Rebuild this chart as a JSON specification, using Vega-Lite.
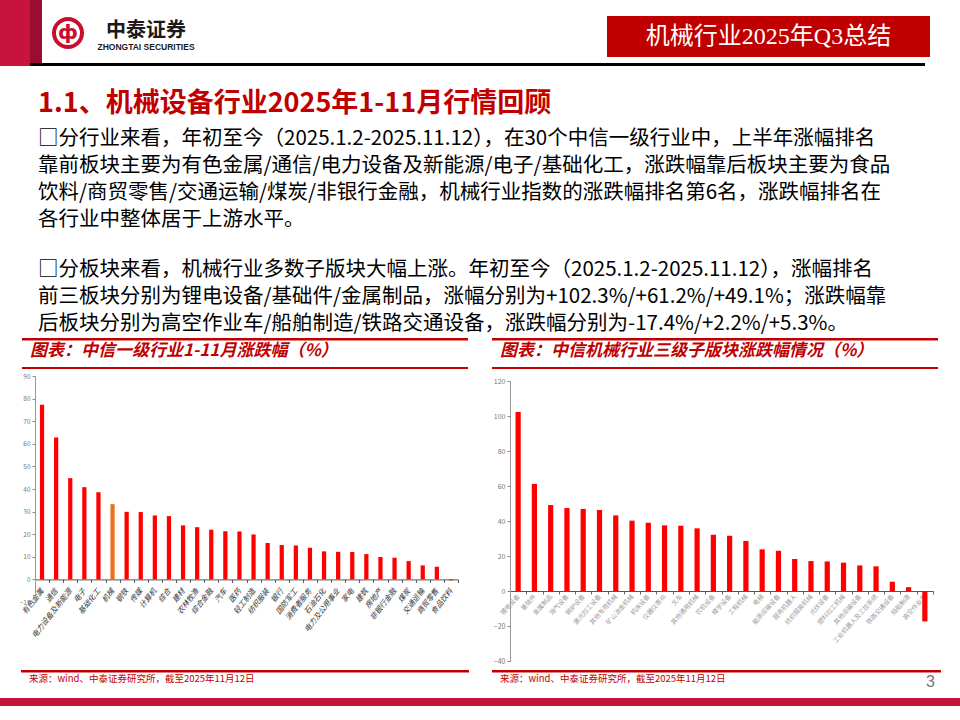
{
  "$schema": "https://vega.github.io/schema/vega-lite/v6.json",
  "background": "white",
  "padding": 0,
  "config": {"view": {"stroke": null}, "font": "Noto Sans CJK SC"},
  "spacing": 0,
  "bounds": "flush",
  "vconcat": [
    {
      "spacing": 0, "bounds": "flush",
      "hconcat": [
        {"width": 30, "height": 63, "data": {"values": []}, "mark": "point", "view": {"fill": "#C8143C"}},
        {"width": 12, "height": 63, "data": {"values": []}, "mark": "point", "view": {"fill": "#9B0D2E"}},
        {"width": 11, "height": 63, "data": {"values": []}, "mark": "point"},
        {"spacing": 0, "bounds": "flush", "vconcat": [
          {"width": 30, "height": 18, "data": {"values": []}, "mark": "point"},
          {"width": 30, "height": 30, "data": {"values": [{}]}, "layer": [
            {"mark": {"type": "point", "shape": "circle", "size": 784, "filled": false, "stroke": "#C8102E", "strokeWidth": 4, "opacity": 1}, "encoding": {}},
            {"mark": {"type": "text", "text": "ф", "fontSize": 20, "fontWeight": "bold", "color": "#C8102E", "align": "center", "baseline": "middle", "font": "DejaVu Sans"}, "encoding": {}}
          ]}
        ]},
        {"width": 44, "height": 63, "data": {"values": []}, "mark": "point"},
        {"spacing": 0, "bounds": "flush", "vconcat": [
          {"width": 98, "height": 21, "data": {"values": []}, "mark": "point"},
          {"width": 98, "height": 20, "data": {"values": [{}]}, "mark": {"type": "text", "text": "中泰证券", "fontSize": 20, "fontWeight": "bold", "color": "#1a1a1a", "align": "center", "baseline": "middle", "font": "Noto Sans CJK SC"}, "encoding": {}},
          {"width": 98, "height": 2, "data": {"values": []}, "mark": "point"},
          {"width": 98, "height": 7, "data": {"values": [{}]}, "mark": {"type": "text", "text": "ZHONGTAI SECURITIES", "fontSize": 8.5, "fontWeight": "bold", "color": "#1a1a1a", "align": "center", "baseline": "middle", "font": "'Liberation Sans Narrow', 'Liberation Sans'"}, "encoding": {}}
        ]},
        {"width": 510, "height": 63, "data": {"values": []}, "mark": "point"},
        {"spacing": 0, "bounds": "flush", "vconcat": [
          {"width": 323, "height": 16, "data": {"values": []}, "mark": "point"},
          {"width": 323, "height": 41, "data": {"values": [{}]}, "view": {"fill": "#C00000"}, "mark": {"type": "text", "text": "机械行业2025年Q3总结", "fontSize": 24, "color": "white", "align": "center", "baseline": "middle", "font": "'Liberation Serif', 'Noto Sans CJK SC'"}, "encoding": {}}
        ]}
      ]
    },
    {"width": 10, "height": 63, "data": {"values": []}, "mark": "point"},
    {
      "spacing": 0, "bounds": "flush",
      "hconcat": [
        {"width": 30, "height": 3, "data": {"values": []}, "mark": "point", "view": {"fill": "#C8143C"}},
        {"width": 895, "height": 3, "data": {"values": []}, "mark": "point", "view": {"fill": "#000000"}}
      ]
    },
    {"width": 10, "height": 3, "data": {"values": []}, "mark": "point"},
    {
      "spacing": 0, "bounds": "flush",
      "hconcat": [
        {"width": 38, "height": 1, "data": {"values": []}, "mark": "point"},
        {"width": 880, "height": 1, "data": {"values": []}, "mark": "point",
         "title": {
           "text": "1.1、机械设备行业2025年1-11月行情回顾",
           "subtitle": [
             "□分行业来看，年初至今（2025.1.2-2025.11.12），在30个中信一级行业中，上半年涨幅排名",
             "靠前板块主要为有色金属/通信/电力设备及新能源/电子/基础化工，涨跌幅靠后板块主要为食品",
             "饮料/商贸零售/交通运输/煤炭/非银行金融，机械行业指数的涨跌幅排名第6名，涨跌幅排名在",
             "各行业中整体居于上游水平。"
           ],
           "orient": "bottom", "anchor": "start", "frame": "group", "offset": 24,
           "font": "Noto Sans CJK SC", "fontSize": 27, "fontWeight": "bold", "color": "#C00000",
           "subtitleFont": "Noto Sans CJK SC", "subtitleFontSize": 20.5, "subtitleColor": "#000000",
           "subtitleLineHeight": 27, "subtitlePadding": 11, "subtitleFontWeight": "normal"
         }}
      ]
    },
    {
      "spacing": 0, "bounds": "flush",
      "hconcat": [
        {"width": 38, "height": 1, "data": {"values": []}, "mark": "point"},
        {"width": 880, "height": 1, "data": {"values": []}, "mark": "point",
         "title": {
           "text": [
             "□分板块来看，机械行业多数子版块大幅上涨。年初至今（2025.1.2-2025.11.12），涨幅排名",
             "前三板块分别为锂电设备/基础件/金属制品，涨幅分别为+102.3%/+61.2%/+49.1%；涨跌幅靠",
             "后板块分别为高空作业车/船舶制造/铁路交通设备，涨跌幅分别为-17.4%/+2.2%/+5.3%。"
           ],
           "orient": "bottom", "anchor": "start", "frame": "group", "offset": 193,
           "font": "Noto Sans CJK SC", "fontSize": 20.5, "fontWeight": "normal", "color": "#000000",
           "lineHeight": 27
         }}
      ]
    },
    {"width": 10, "height": 272, "data": {"values": []}, "mark": "point"},
    {
      "spacing": 0, "bounds": "flush",
      "hconcat": [
        {"width": 22, "height": 2.5, "data": {"values": []}, "mark": "point"},
        {"width": 446, "height": 2.5, "data": {"values": []}, "mark": "point", "view": {"fill": "#C00000"}},
        {"width": 24, "height": 2.5, "data": {"values": []}, "mark": "point"},
        {"width": 446, "height": 2.5, "data": {"values": []}, "mark": "point", "view": {"fill": "#C00000"}}
      ]
    },
    {"width": 10, "height": 29, "data": {"values": []}, "mark": "point"},
    {
      "spacing": 0, "bounds": "flush",
      "hconcat": [
        {"width": 22, "height": 2, "data": {"values": []}, "mark": "point"},
        {"width": 446, "height": 2, "data": {"values": []}, "mark": "point", "view": {"fill": "#C00000"}},
        {"width": 24, "height": 2, "data": {"values": []}, "mark": "point"},
        {"width": 446, "height": 2, "data": {"values": []}, "mark": "point", "view": {"fill": "#C00000"}}
      ]
    },
    {"width": 10, "height": 9, "data": {"values": []}, "mark": "point"},
    {
      "spacing": 0, "bounds": "flush",
      "hconcat": [
        {"width": 35, "height": 1, "data": {"values": []}, "mark": "point"},
        {
          "width": 423, "height": 226,
          "title": {"text": "图表：中信一级行业1-11月涨跌幅（%）", "anchor": "start", "frame": "group", "dx": -5, "offset": 13, "fontSize": 17, "fontWeight": "bold", "fontStyle": "italic", "color": "#C00000", "font": "Noto Sans CJK SC"},
          "data": {"values": [
            {"industry": "有色金属", "change": 77.3},
            {"industry": "通信", "change": 62.8},
            {"industry": "电力设备及新能源", "change": 44.8},
            {"industry": "电子", "change": 40.8},
            {"industry": "基础化工", "change": 38.6},
            {"industry": "机械", "change": 33.3},
            {"industry": "钢铁", "change": 29.9},
            {"industry": "传媒", "change": 29.8},
            {"industry": "计算机", "change": 28.3},
            {"industry": "综合", "change": 28.0},
            {"industry": "建材", "change": 23.9},
            {"industry": "农林牧渔", "change": 23.1},
            {"industry": "综合金融", "change": 22.0},
            {"industry": "汽车", "change": 21.3},
            {"industry": "医药", "change": 21.2},
            {"industry": "轻工制造", "change": 19.9},
            {"industry": "纺织服装", "change": 16.1},
            {"industry": "银行", "change": 15.2},
            {"industry": "国防军工", "change": 15.0},
            {"industry": "消费者服务", "change": 14.0},
            {"industry": "石油石化", "change": 12.4},
            {"industry": "电力及公用事业", "change": 12.2},
            {"industry": "家电", "change": 12.1},
            {"industry": "建筑", "change": 11.2},
            {"industry": "房地产", "change": 9.9},
            {"industry": "非银行金融", "change": 9.6},
            {"industry": "煤炭", "change": 8.1},
            {"industry": "交通运输", "change": 6.2},
            {"industry": "商贸零售", "change": 5.6},
            {"industry": "食品饮料", "change": -0.4}
          ]},
          "mark": {"type": "bar", "width": {"band": 0.3}},
          "encoding": {
            "x": {"field": "industry", "type": "nominal", "sort": null,
                  "scale": {"paddingInner": 0, "paddingOuter": 0},
                  "axis": {"title": null, "offset": -22.6, "labelAngle": -52, "labelFontSize": 7.5, "labelFont": "Noto Sans CJK SC", "labelFontStyle": "italic", "labelColor": "#333333", "labelPadding": 7, "tickBand": "extent", "tickSize": 3, "tickColor": "#555555", "domainColor": "#555555", "grid": false, "labelOverlap": false}},
            "y": {"field": "change", "type": "quantitative",
                  "scale": {"domain": [-10, 90], "nice": false, "zero": false},
                  "axis": {"title": null, "values": [-10, 0, 10, 20, 30, 40, 50, 60, 70, 80, 90], "labelFontSize": 6.5, "labelColor": "#777777", "tickColor": "#888888", "domainColor": "#999999", "tickSize": 3, "grid": false, "labelPadding": 2}},
            "color": {"condition": {"test": "datum.industry === '机械'", "value": "#E8731E"}, "value": "#FF0000"}
          }
        },
        {"width": 52, "height": 1, "data": {"values": []}, "mark": "point"},
        {
          "spacing": 0, "bounds": "flush",
          "vconcat": [
            {"width": 1, "height": 4.3, "data": {"values": []}, "mark": "point"},
            {
              "width": 423, "height": 280,
              "title": {"text": "图表：中信机械行业三级子版块涨跌幅情况（%）", "anchor": "start", "frame": "group", "dx": -10, "offset": 17, "fontSize": 17, "fontWeight": "bold", "fontStyle": "italic", "color": "#C00000", "font": "Noto Sans CJK SC"},
              "data": {"values": [
                {"sector": "锂电设备", "change": 102.3},
                {"sector": "基础件", "change": 61.2},
                {"sector": "金属制品", "change": 49.1},
                {"sector": "油气设备", "change": 47.4},
                {"sector": "锅炉设备", "change": 46.9},
                {"sector": "激光加工设备", "change": 46.3},
                {"sector": "其他专用机械", "change": 43.2},
                {"sector": "矿山冶金机械", "change": 40.2},
                {"sector": "机床设备", "change": 39.0},
                {"sector": "仪器仪表Ⅲ", "change": 37.5},
                {"sector": "叉车", "change": 37.3},
                {"sector": "其他通用机械", "change": 35.8},
                {"sector": "农机设备", "change": 32.2},
                {"sector": "楼宇设备", "change": 31.6},
                {"sector": "工程机械", "change": 28.6},
                {"sector": "电梯", "change": 23.8},
                {"sector": "能源运输设备", "change": 23.0},
                {"sector": "服务机器人", "change": 18.3},
                {"sector": "纺织服装机械", "change": 17.1},
                {"sector": "光伏设备", "change": 16.9},
                {"sector": "塑料加工机械", "change": 16.2},
                {"sector": "其他运输设备", "change": 14.6},
                {"sector": "工业机器人及工控系统", "change": 14.1},
                {"sector": "铁路交通设备", "change": 5.3},
                {"sector": "船舶制造", "change": 2.2},
                {"sector": "高空作业车", "change": -17.4}
              ]},
              "mark": {"type": "bar", "width": {"band": 0.32}, "color": "#FF0000"},
              "encoding": {
                "x": {"field": "sector", "type": "nominal", "sort": null,
                      "scale": {"paddingInner": 0, "paddingOuter": 0},
                      "axis": {"title": null, "offset": -70, "labelAngle": -48, "labelFontSize": 6.3, "labelFont": "Noto Sans CJK SC", "labelColor": "#999999", "labelPadding": 1, "tickBand": "extent", "tickSize": 3, "tickColor": "#666666", "domainColor": "#555555", "grid": false, "labelOverlap": false}},
                "y": {"field": "change", "type": "quantitative",
                      "scale": {"domain": [-40, 120], "nice": false, "zero": false},
                      "axis": {"title": null, "values": [-40, -20, 0, 20, 40, 60, 80, 100, 120], "labelFontSize": 7, "labelColor": "#777777", "tickColor": "#888888", "domainColor": "#999999", "tickSize": 3, "grid": false, "labelPadding": 2}}
              }
            }
          ]
        }
      ]
    },
    {"width": 10, "height": 294, "data": {"values": []}, "mark": "point"},
    {
      "spacing": 0, "bounds": "flush",
      "hconcat": [
        {"width": 21, "height": 2.5, "data": {"values": []}, "mark": "point"},
        {"width": 448, "height": 2.5, "data": {"values": []}, "mark": "point", "view": {"fill": "#C00000"},
         "title": {"text": "来源：wind、中泰证券研究所，截至2025年11月12日", "orient": "bottom", "anchor": "start", "frame": "group", "dx": 8, "offset": 1, "fontSize": 9.5, "fontWeight": "normal", "color": "#C00000", "font": "Noto Sans CJK SC"}},
        {"width": 23, "height": 2.5, "data": {"values": []}, "mark": "point"},
        {"width": 449, "height": 2.5, "data": {"values": []}, "mark": "point", "view": {"fill": "#C00000"},
         "title": {"text": "来源：wind、中泰证券研究所，截至2025年11月12日", "orient": "bottom", "anchor": "start", "frame": "group", "dx": 8, "offset": 1, "fontSize": 9.5, "fontWeight": "normal", "color": "#C00000", "font": "Noto Sans CJK SC"}}
      ]
    },
    {"width": 10, "height": 28, "data": {"values": []}, "mark": "point"},
    {"width": 960, "height": 8, "data": {"values": []}, "mark": "point", "view": {"fill": "#C4123C"},
     "title": {"text": "3", "orient": "top", "anchor": "end", "frame": "group", "dx": -25, "offset": 8, "fontSize": 16, "fontWeight": "normal", "color": "#777777", "font": "'Liberation Sans Narrow', 'Liberation Sans'"}}
  ]
}
